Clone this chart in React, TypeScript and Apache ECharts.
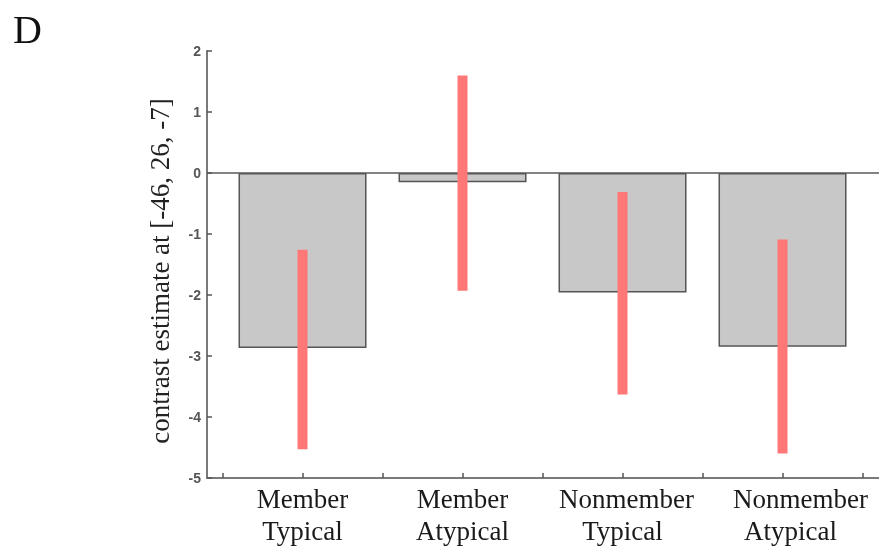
import React, { useEffect, useRef } from "react";
import * as echarts from "echarts";

const categories = ["Member\nTypical", "Member\nAtypical", "Nonmember\nTypical", "Nonmember\nAtypical"];
const barValues = [-2.87, -0.15, -1.96, -2.85];
const errLow = [-4.53, -1.93, -3.63, -4.6];
const errHigh = [-1.26, 1.6, -0.31, -1.09];
const yTitle = "contrast estimate at [-46, 26, -7]";
const panelLetter = "D";

export default function App() {
  const ref = useRef<HTMLDivElement>(null);
  useEffect(() => {
    if (!ref.current) return;
    const chart = echarts.init(ref.current, undefined, { renderer: "svg" });
    const xMin = 0.403;
    const xMax = 4.603;
    const tickVals = Array.from({ length: 9 }, (_, i) => 0.5 + i * 0.5);
    const labelPos = categories.map((_, i) => i + 1);
    // small horizontal nudges (px of left padding) per label line, as in the source figure
    const linePad = [
      [0, 0],
      [0, 0],
      [8, 0],
      [36, 16],
    ];
    const rich: any = {};
    linePad.forEach((pads, i) => {
      pads.forEach((p, j) => {
        rich[`l${i}_${j}`] = {
          fontFamily: "Liberation Serif",
          fontSize: 27,
          lineHeight: 32,
          color: "#1a1a1a",
          padding: [0, 0, 0, p],
        };
      });
    });
    const option: any = {
      animation: false,
      grid: { left: 207, right: 0, top: 51, bottom: 74, containLabel: false },
      xAxis: {
        type: "value",
        min: xMin,
        max: xMax,
        splitLine: { show: false },
        axisLine: { show: true, onZero: false, lineStyle: { color: "#7a7a7a", width: 2 } },
        axisTick: { show: true, inside: true, length: 5, customValues: tickVals, lineStyle: { color: "#555", width: 1.5 } },
        axisLabel: {
          customValues: labelPos,
          hideOverlap: false,
          showMinLabel: true,
          showMaxLabel: true,
          formatter: (v: number) => {
            const i = Math.round(v) - 1;
            const c = categories[i];
            if (!c) return "";
            return c
              .split("\n")
              .map((s, j) => `{l${i}_${j}|${s}}`)
              .join("\n");
          },
          rich,
          fontFamily: "Liberation Serif",
          fontSize: 27,
          lineHeight: 32,
          color: "#1a1a1a",
          margin: 5,
        },
      },
      yAxis: {
        type: "value",
        min: -5,
        max: 2,
        interval: 1,
        splitLine: { show: false },
        axisLine: { show: true, onZero: false, lineStyle: { color: "#7a7a7a", width: 2 } },
        axisTick: { show: true, inside: true, length: 5, lineStyle: { color: "#555", width: 1.5 } },
        axisLabel: { fontFamily: "Liberation Sans", fontWeight: "bold", fontSize: 14, color: "#555", margin: 6 },
      },
      series: [
        {
          type: "bar",
          data: barValues.map((v, i) => [i + 1, v]),
          barWidth: 128,
          itemStyle: { color: "#c8c8c8", borderColor: "#555", borderWidth: 1.5 },
          markLine: {
            silent: true,
            symbol: ["none", "none"],
            label: { show: false },
            lineStyle: { color: "#5a5a5a", width: 1.5, type: "solid" },
            data: [{ yAxis: 0 }],
          },
        },
        {
          type: "custom",
          z: 5,
          data: errLow.map((l, i) => [i + 1, l, errHigh[i]]),
          encode: { x: 0, y: [1, 2] },
          renderItem: (params: any, api: any) => {
            const x = api.value(0);
            const p1 = api.coord([x, api.value(1)]);
            const p2 = api.coord([x, api.value(2)]);
            const w = 10;
            return {
              type: "rect",
              shape: { x: p1[0] - w / 2, y: p2[1], width: w, height: p1[1] - p2[1] },
              style: { fill: "#ff7777" },
            };
          },
        },
      ],
      graphic: [
        {
          type: "text",
          left: 13,
          top: 9,
          style: { text: panelLetter, font: '40px "Liberation Serif"', fill: "#111" },
        },
        {
          type: "text",
          x: 160,
          y: 271,
          rotation: Math.PI / 2,
          style: {
            text: yTitle,
            font: '27px "Liberation Serif"',
            fill: "#222",
            align: "center",
            verticalAlign: "middle",
            textAlign: "center",
            textVerticalAlign: "middle",
          },
        },
      ],
    };
    chart.setOption(option);
    return () => chart.dispose();
  }, []);
  return <div ref={ref} style={{ position: "fixed", left: 0, top: 0, width: 879, height: 552 }} />;
}
